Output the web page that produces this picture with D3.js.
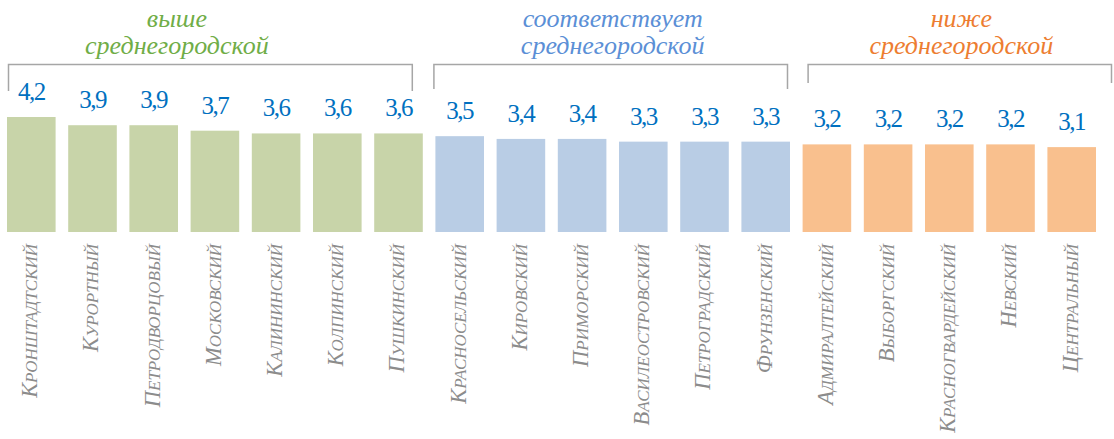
<!DOCTYPE html>
<html><head><meta charset="utf-8">
<script src="https://cdn.jsdelivr.net/npm/d3@7"></script>
<style>body{margin:0;background:#fff}svg{display:block}
.serif{font-family:"Liberation Serif","Times New Roman","DejaVu Serif",serif}</style>
</head><body>
<svg id="c" width="1114" height="439"></svg>
<script>
const categories = ["Кронштадтский","Курортный","Петродворцовый","Московский","Калининский","Колпинский","Пушкинский","Красносельский","Кировский","Приморский","Василеостровский","Петроградский","Фрунзенский","Адмиралтейский","Выборгский","Красногвардейский","Невский","Центральный"];
const values = [4.2,3.9,3.9,3.7,3.6,3.6,3.6,3.5,3.4,3.4,3.3,3.3,3.3,3.2,3.2,3.2,3.2,3.1];
const groupOf = [0,0,0,0,0,0,0,1,1,1,1,1,1,2,2,2,2,2];
const groupTitles = [["выше","среднегородской"],["соответствует","среднегородской"],["ниже","среднегородской"]];
const barColors = ["#C8D4A9","#B9CDE5","#F9C08E"];
const titleColors = ["#70AD47","#5B8FD6","#ED7D31"];

const svg = d3.select("#c");
const x = d3.scaleBand().domain(categories).range([0.7, 1102.3]).paddingInner(0.206).paddingOuter(0.103);
const y = d3.scaleLinear().domain([0, 4.2]).range([232, 117]);

svg.append("g").selectAll("rect").data(categories).join("rect")
  .attr("x", d => x(d)).attr("width", x.bandwidth())
  .attr("y", (d,i) => y(values[i])).attr("height", (d,i) => y(0) - y(values[i]))
  .attr("fill", (d,i) => barColors[groupOf[i]]);

const fmt = v => d3.format(".1f")(v).replace(".", ",");
svg.append("g").selectAll("text").data(categories).join("text")
  .attr("class", "serif")
  .attr("x", d => x(d) + x.bandwidth()/2)
  .attr("y", (d,i) => y(values[i]) - 17)
  .attr("text-anchor", "middle")
  .attr("font-size", 25)
  .attr("letter-spacing", -1.5)
  .attr("fill", "#0070C0")
  .text((d,i) => fmt(values[i]));

// category labels (rotated, small caps)
const lab = svg.append("g").selectAll("text").data(categories).join("text")
  .attr("class", "serif")
  .attr("transform", d => `translate(${x(d) + x.bandwidth()/2},244) rotate(-90)`)
  .attr("text-anchor", "end").attr("dy", "0.35em")
  .attr("font-size", 17)
  .attr("font-style", "italic")
  .attr("fill", "#8C8C8C");
lab.append("tspan").attr("font-size", 22.5).text(d => d[0]);
lab.append("tspan").attr("font-size", 17).text(d => d.slice(1).toUpperCase());

// group brackets and titles
const groups = [0,1,2].map(g => {
  const idx = groupOf.map((v,i) => v === g ? i : -1).filter(i => i >= 0);
  return {g, first: categories[idx[0]], last: categories[idx[idx.length-1]]};
});
const bracketDrop = [91, 89, 83];
const bracketInset = [[1, -10], [-2, -2], [5, 16]];
const bg = svg.append("g");
groups.forEach(o => {
  const x0 = x(o.first) + bracketInset[o.g][0];
  const x1 = x(o.last) + x.bandwidth() + bracketInset[o.g][1];
  bg.append("path")
    .attr("d", `M${x0 + 0.5},${bracketDrop[o.g]}V64.5H${x1 - 0.5}V${bracketDrop[o.g]}`)
    .attr("fill", "none").attr("stroke", "#A6A6A6").attr("stroke-width", 1.5);
  const cx = (x(o.first) + x(o.last) + x.bandwidth())/2 + [-38, 0, 12][o.g];
  const t = bg.append("text").attr("class", "serif").attr("text-anchor", "middle")
    .attr("font-style", "italic")
    .attr("font-size", 26).attr("fill", titleColors[o.g]);
  t.append("tspan").attr("x", cx).attr("y", 27).text(groupTitles[o.g][0]);
  t.append("tspan").attr("x", cx).attr("y", 54).text(groupTitles[o.g][1]);
});
</script>
</body></html>
